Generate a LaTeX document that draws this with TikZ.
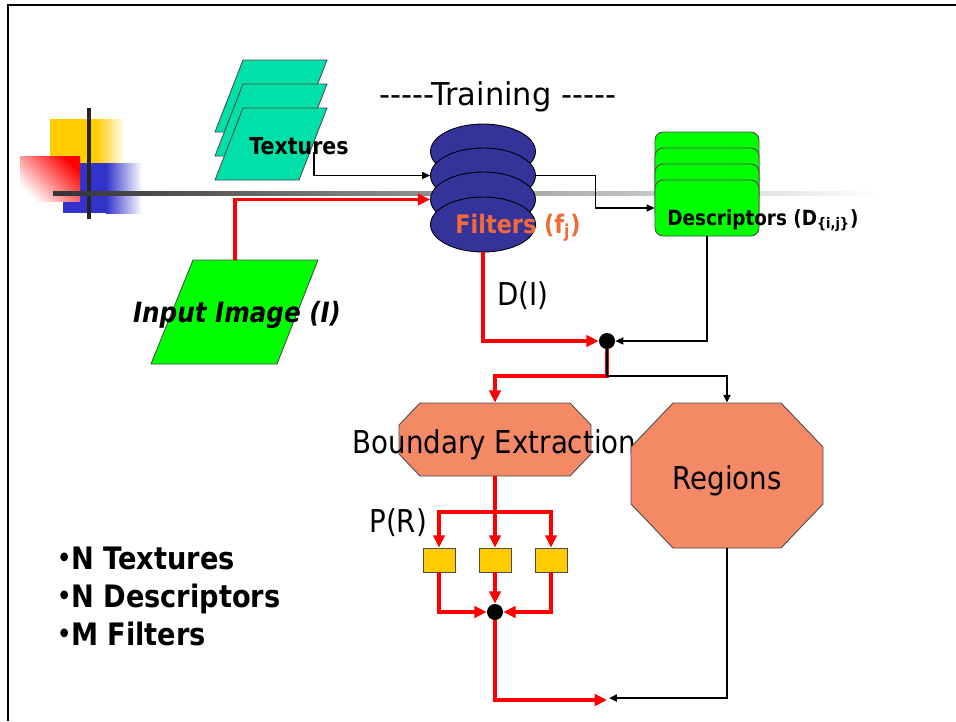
\documentclass[tikz,border=0pt]{standalone}
\usepackage{fontspec}
\setmainfont{DejaVu Sans}[FakeStretch=0.88,
  BoldFont=DejaVu Sans Bold,
  ItalicFont=DejaVu Sans Oblique,
  BoldItalicFont=DejaVu Sans Bold Oblique]
\usetikzlibrary{arrows.meta,calc,shapes.geometric}

\definecolor{texgreen}{RGB}{0,224,168}
\definecolor{imggreen}{RGB}{0,255,0}
\definecolor{filterblue}{RGB}{51,51,153}
\definecolor{salmon}{RGB}{244,137,102}
\definecolor{gold}{RGB}{255,204,0}
\definecolor{filtertext}{RGB}{242,106,58}
\definecolor{decoblue}{RGB}{51,51,204}

\newcommand{\smallbullet}{\raisebox{1.4pt}{\fontsize{14pt}{14pt}\selectfont •}}

\tikzset{
  bigtext/.style={font=\fontsize{17.9pt}{20pt}\selectfont, inner sep=0pt},
  conn/.style={draw=black, line width=0.6pt, -{Triangle[length=4.5pt,width=4pt]}},
  heavyconn/.style={draw=black, line width=1.2pt, -{Triangle[length=4.5pt,width=4pt]}},
  redconn/.style={draw=red, line width=2pt, -{Triangle[length=7pt,width=6.5pt]}},
  shapeedge/.style={draw=black!70, line width=0.5pt},
  disk/.style={ellipse, shapeedge, draw=black, fill=filterblue,
    minimum width=2.1cm, minimum height=1.1cm, inner sep=0pt},
  desc/.style={rectangle, rounded corners=0.16cm, shapeedge, fill=imggreen,
    minimum width=2.08cm, minimum height=1.12cm, inner sep=0pt},
  probe/.style={rectangle, shapeedge, fill=gold,
    minimum width=0.64cm, minimum height=0.48cm, inner sep=0pt},
  junction/.style={circle, fill=black, minimum size=0.32cm, inner sep=0pt},
  octframe/.style={rectangle, inner sep=0pt},
}

\begin{document}
\begin{tikzpicture}[x=0.02cm, y=-0.02cm]
\useasboundingbox (0,0) rectangle (956,721);

% slide frame
\draw[line width=1.3pt] (8,721) -- (8,5) -- (956,5);

% corner ornament
\fill[gold] (50,119) rectangle (96,163);
\shade[left color=gold, right color=white] (96,119) rectangle (125,163);
\fill[decoblue] (63,163) rectangle (106,213);
\shade[left color=decoblue, right color=white] (106,163) rectangle (142,213);
\shade[top color=red, bottom color=white, shading angle=-45] (20,156) rectangle (80,201);
\fill[black!85] (87,108) rectangle (91,219);
\shade[left color=black!80, right color=white] (53,191) rectangle (880,195);

% textures stack
\foreach \t in {60,84,108}
  \filldraw[shapeedge, fill=texgreen]
    (215,\t+72) -- (299,\t+72) -- (327,\t) -- (243,\t) -- cycle;
\node[font=\bfseries\fontsize{13.3pt}{15pt}\selectfont, anchor=base, inner sep=0pt]
  (tex) at (299,154) {Textures};
\coordinate (texout) at (314,152);

% training label
\node[bigtext, anchor=base] (train) at (497.5,105)
  {\scalebox{1.1}[1]{-{}-{}-{}-{}-Training -{}-{}-{}-{}-}};

% filter bank
\node[disk] (f1) at (483,151.5) {};
\node[disk] (f2) at (483,175.5) {};
\node[disk] (f3) at (483,199.5) {};
\node[disk] (f4) at (483,224.5) {};
\node[font=\bfseries\fontsize{14.5pt}{16pt}\selectfont, text=filtertext, anchor=base, inner sep=0pt]
  (flab) at (518,233) {Filters (f\textsubscript{j})};

% descriptor stack
\node[desc] (d1) at (707,160) {};
\node[desc] (d2) at (707,176) {};
\node[desc] (d3) at (707,192) {};
\node[desc] (d4) at (707,208) {};
\node[font=\bfseries\fontsize{11.9pt}{13pt}\selectfont, anchor=base west, inner sep=0pt]
  (dlab) at (667,225) {Descriptors (D\textsubscript{\{i,j\}})};

% input image
\filldraw[shapeedge, fill=imggreen] (151,364) -- (277,364) -- (318,260) -- (193,260) -- cycle;
\coordinate (inptop) at (235,260);
\node[font=\bfseries\itshape\fontsize{15.9pt}{17pt}\selectfont, anchor=base, inner sep=0pt]
  (inp) at (237,322) {Input Image (I)};

% D(I) label
\node[bigtext, anchor=base west] (dI) at (497,305) {D(I)};

% junctions
\node[junction] (j1) at (607,341) {};
\node[junction] (j2) at (495,612) {};

% boundary extraction octagon
\filldraw[shapeedge, fill=salmon] (420,403) -- (570,403) -- (591,425) -- (591,454)
  -- (570,476) -- (420,476) -- (399,454) -- (399,425) -- cycle;
\node[octframe, minimum width=3.84cm, minimum height=1.46cm] (bnd) at (495,439.5) {};
\node[bigtext, anchor=base] (bndlab) at (494.5,453) {Boundary Extraction};

% regions octagon
\filldraw[shapeedge, fill=salmon] (673,403) -- (781,403) -- (823,447) -- (823,504)
  -- (781,548) -- (673,548) -- (631,504) -- (631,447) -- cycle;
\node[octframe, minimum width=3.84cm, minimum height=2.9cm] (reg) at (727,475.5) {};
\node[bigtext, anchor=base] (reglab) at (727,489) {Regions};

% probes
\node[probe] (s1) at (439,560) {};
\node[probe] (s2) at (495,560) {};
\node[probe] (s3) at (551,560) {};
\node[bigtext, anchor=base west] (pR) at (369,532) {P(R)};

% bullet list
\begin{scope}[every node/.style={font=\bfseries\fontsize{17.6pt}{20pt}\selectfont, anchor=base west, inner sep=0pt}]
  \node (b1) at (57,569) {\smallbullet N Textures};
  \node (b2) at (57,607) {\smallbullet N Descriptors};
  \node (b3) at (57,645) {\smallbullet M Filters};
\end{scope}

% connectors: training
\draw[conn] (texout) |- (f2.west);
\draw[redconn] (inptop) |- (f3.west);
\draw[conn] (f2.east) -- ++(60,0) |- (d4.west);
\draw[conn] (d4.south) |- (j1.east);
\draw[redconn] (f4.south) |- (j1.west);

% connectors: split to boundary and regions
\coordinate (split) at (607,376);
\draw[redconn] (j1.south) -- (split) -| (bnd.north);
\draw[heavyconn] (j1.south) -- (split) -| (reg.north);

% connectors: boundary probes
\coordinate (fork) at (495,512);
\draw[redconn] (bnd.south) -- (s2.north);
\draw[redconn] (fork) -| (s1.north);
\draw[redconn] (fork) -| (s3.north);
\draw[redconn] (s1.south) |- (j2.west);
\draw[redconn] (s3.south) |- (j2.east);
\draw[redconn] (s2.south) -- (j2.north);

% connectors: outputs
\coordinate (outr) at (607,700);
\coordinate (outb) at (609,698);
\draw[redconn] (j2.south) |- (outr);
\draw[heavyconn] (reg.south) |- (outb);
\end{tikzpicture}
\end{document}
